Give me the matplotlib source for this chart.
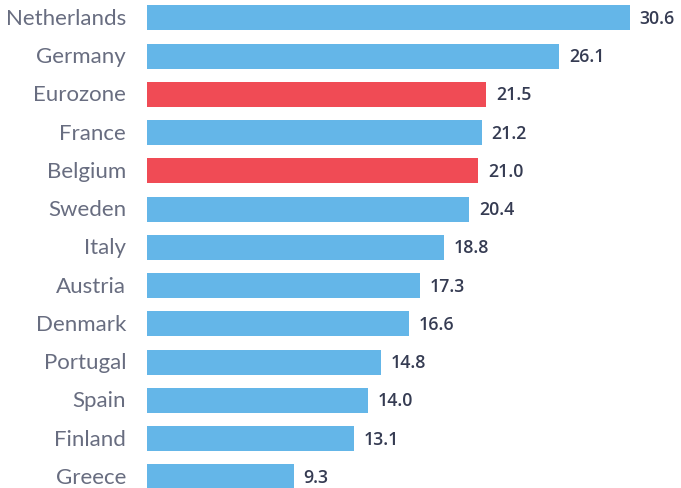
import matplotlib
matplotlib.use("Agg")
import matplotlib.pyplot as plt

countries = ["Netherlands", "Germany", "Eurozone", "France", "Belgium", "Sweden",
             "Italy", "Austria", "Denmark", "Portugal", "Spain", "Finland", "Greece"]
values = [30.6, 26.1, 21.5, 21.2, 21.0, 20.4, 18.8, 17.3, 16.6, 14.8, 14.0, 13.1, 9.3]
highlight = ["Eurozone", "Belgium"]

BLUE = "#64b6e8"
RED = "#f04b55"

fig = plt.figure(figsize=(6.81, 4.89), dpi=100)
ax = fig.add_axes([147 / 681, 0, 1 - 147 / 681, 1])

colors = [RED if c in highlight else BLUE for c in countries]
ypos = list(range(len(countries)))
ax.barh(ypos, values, height=0.65, color=colors)

ax.set_xlim(0, 534 / 15.78)
ax.set_ylim(12.29, -0.494)

# value labels just past the end of each bar
for y, v in zip(ypos, values):
    ax.text(v + 0.63, y, f"{v:.1f}", va="center", ha="left",
            fontsize=12.8, fontfamily="Open Sans", fontweight="semibold",
            color="#353b52")

# country names right-aligned to the left of the bars
for y, c in zip(ypos, countries):
    ax.text(-1.33, y, c, va="center", ha="right", fontsize=16,
            fontfamily="Lato", fontweight="normal", color="#686d80",
            clip_on=False)

ax.axis("off")
fig.savefig("out.png", dpi=100)
